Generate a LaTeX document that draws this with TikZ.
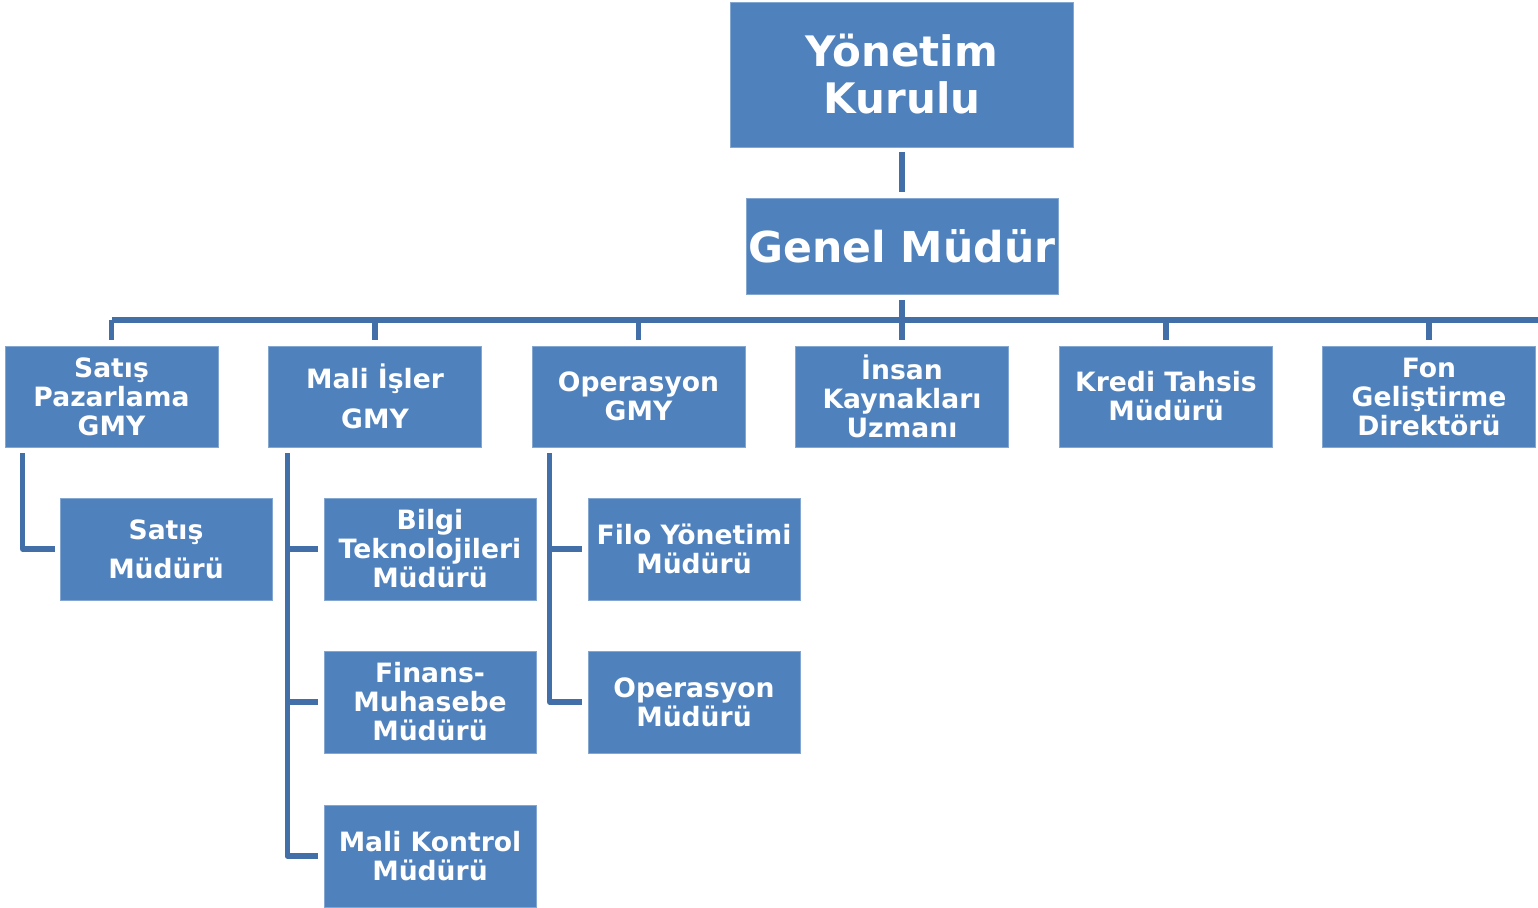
\documentclass[tikz,border=0pt]{standalone}
\usepackage{fontspec}
\setmainfont{DejaVu Sans}
\definecolor{boxblue}{HTML}{4F81BD}
\definecolor{lineblue}{HTML}{436FA8}
\begin{document}
\begin{tikzpicture}[x=0.5pt,y=-0.5pt,
  box/.style={fill=boxblue, draw=boxblue!70!white, line width=0.4pt, inner sep=0pt, align=center, text=white, font=\bfseries\fontsize{13.3}{14.5}\selectfont},
  lvl2/.style={box, minimum width=106.5pt, minimum height=50.5pt},
  lvl3/.style={box, minimum width=106pt, minimum height=51pt},
  conn/.style={draw=lineblue, line width=2.6pt, line join=round}]
\useasboundingbox (0,0) rectangle (1538,907);
% top
\node[box, minimum width=171.5pt, minimum height=72.5pt, font=\bfseries\fontsize{21}{23.5}\selectfont] (yk) at (902,74.5) {Yönetim\\Kurulu};
\node[box, minimum width=156pt, minimum height=48pt, font=\bfseries\fontsize{21.3}{24}\selectfont] (gm) at (902,246) {Genel Müdür};
% level 2
\node[lvl2] (sp) at (111.5,396.5) {Satış\\Pazarlama\\GMY};
\node[lvl2, font=\bfseries\fontsize{13.3}{20}\selectfont] (mi) at (375,396.5) {Mali İşler\\GMY};
\node[lvl2] (op) at (638.5,396.5) {Operasyon\\GMY};
\node[lvl2] (ik) at (902,396.5) {İnsan\\Kaynakları\\Uzmanı};
\node[lvl2] (kt) at (1166,396.5) {Kredi Tahsis\\Müdürü};
\node[lvl2] (fg) at (1429,396.5) {Fon\\Geliştirme\\Direktörü};
% level 3
\node[lvl3, font=\bfseries\fontsize{13.3}{19.5}\selectfont] (sm) at (166,549) {Satış\\Müdürü};
\node[lvl3] (bt) at (430,549) {Bilgi\\Teknolojileri\\Müdürü};
\node[lvl3] (fm) at (430,702) {Finans-\\Muhasebe\\Müdürü};
\node[lvl3] (mk) at (430,856) {Mali Kontrol\\Müdürü};
\node[lvl3] (fy) at (694,549) {Filo Yönetimi\\Müdürü};
\node[lvl3] (om) at (694,702) {Operasyon\\Müdürü};
% connectors
\draw[conn] ([yshift=-2.5pt]yk.south) -- ([yshift=3pt]gm.north);
\coordinate (bus) at (902,320);
\coordinate (busend) at (1538,320);
\draw[conn] ([yshift=-3pt]gm.south) -- (gm.south |- bus);
\draw[conn] (sp.north |- bus) -- (busend);
\foreach \n in {sp,mi,op,ik,kt,fg}{
  \draw[conn] (\n.north |- bus) -- ([yshift=3pt]\n.north);
}
% Satış
\draw[conn] ([xshift=9pt,yshift=-3pt]sp.south west) |- ([xshift=-2.5pt]sm.west);
% Mali İşler
\coordinate (mtr) at ([xshift=9.5pt,yshift=-3pt]mi.south west);
\draw[conn] (mtr) |- ([xshift=-3pt]mk.west);
\draw[conn] (bt.west -| mtr) -- ([xshift=-3pt]bt.west);
\draw[conn] (fm.west -| mtr) -- ([xshift=-3pt]fm.west);
% Operasyon
\coordinate (otr) at ([xshift=9pt,yshift=-3pt]op.south west);
\draw[conn] (otr) |- ([xshift=-3pt]om.west);
\draw[conn] (fy.west -| otr) -- ([xshift=-3pt]fy.west);
\end{tikzpicture}
\end{document}
